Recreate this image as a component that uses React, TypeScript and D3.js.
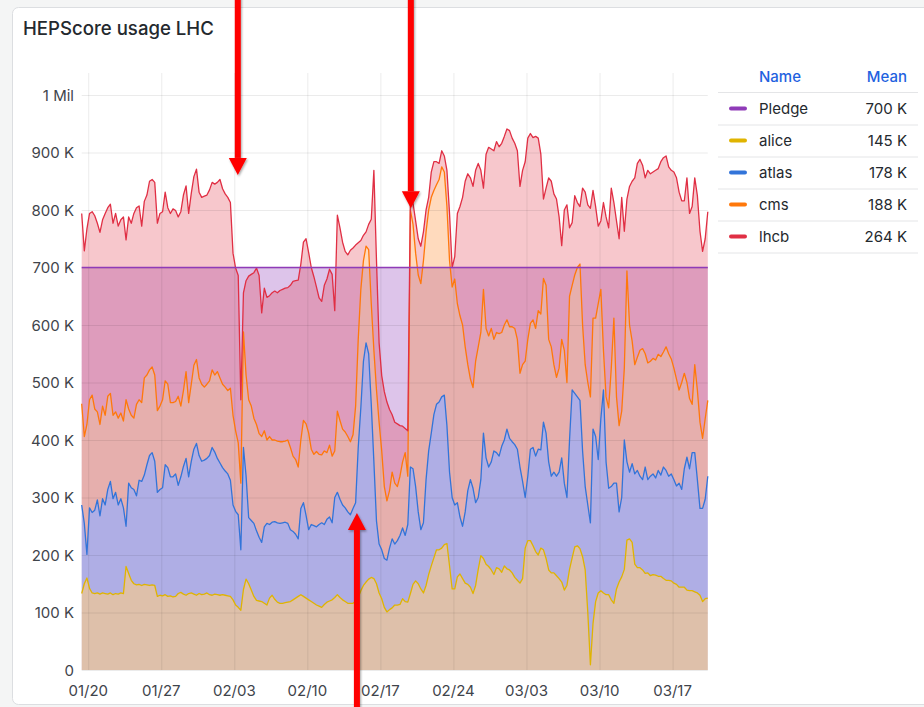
import * as d3 from "d3";

// HEPScore usage LHC - stacked per-experiment usage (K units), 6h samples
const START = new Date(2025, 0, 19, 9);
const STEP_HOURS = 6;

const alice = [
  133, 150, 160, 142, 134, 133, 134, 132, 134, 133,
  132, 134, 131, 133, 132, 134, 133, 180, 168, 156,
  150, 148, 149, 147, 149, 148, 147, 148, 147, 128,
  130, 129, 131, 128, 129, 127, 128, 133, 135, 132,
  130, 133, 134, 132, 130, 133, 131, 132, 134, 131,
  130, 132, 131, 130, 131, 130, 129, 128, 122, 113,
  109, 104, 140, 158, 150, 139, 128, 121, 120, 119,
  116, 113, 125, 130, 123, 118, 116, 116, 117, 118,
  119, 122, 125, 128, 131, 128, 125, 122, 119, 116,
  113, 111, 109, 114, 118, 120, 122, 126, 131, 126,
  122, 119, 116, 116, 116, 120, 126, 138, 147, 153,
  158, 161, 159, 150, 134, 124, 109, 101, 105, 108,
  113, 113, 114, 124, 119, 118, 133, 149, 155, 150,
  141, 134, 147, 166, 181, 195, 209, 209, 212, 218,
  220, 181, 141, 141, 162, 167, 159, 151, 149, 144,
  133, 147, 175, 199, 194, 184, 180, 174, 166, 178,
  176, 170, 181, 176, 174, 169, 161, 156, 151, 159,
  212, 225, 225, 216, 206, 200, 212, 209, 194, 174,
  169, 169, 164, 159, 153, 139, 147, 175, 195, 214,
  216, 211, 197, 174, 100, 9, 81, 119, 134, 138,
  134, 131, 131, 122, 116, 141, 153, 162, 175, 226,
  228, 222, 184, 178, 178, 174, 168, 169, 164, 166,
  165, 163, 163, 159, 156, 156, 155, 151, 149, 144,
  144, 144, 139, 138, 138, 136, 134, 130, 119, 124,
  125,
];

const atlas = [
  154, 105, 41, 140, 140, 145, 162, 136, 164, 154,
  182, 194, 167, 176, 155, 164, 149, 70, 157, 161,
  164, 155, 181, 181, 190, 209, 226, 230, 216, 181,
  184, 188, 226, 224, 207, 209, 213, 188, 201, 222,
  238, 203, 229, 252, 264, 240, 232, 233, 234, 242,
  257, 247, 237, 230, 221, 216, 212, 202, 165, 163,
  161, 105, 247, 180, 115, 121, 127, 121, 111, 103,
  133, 142, 128, 127, 135, 138, 139, 140, 140, 137,
  125, 119, 111, 100, 150, 163, 144, 122, 134, 135,
  136, 142, 147, 139, 144, 146, 134, 174, 178, 171,
  165, 163, 159, 154, 165, 171, 261, 318, 390, 416,
  392, 301, 203, 109, 85, 85, 85, 90, 107, 120,
  106, 112, 120, 123, 115, 135, 220, 201, 164, 125,
  103, 122, 184, 215, 231, 249, 253, 257, 263, 260,
  205, 163, 159, 146, 129, 99, 91, 124, 163, 187,
  183, 144, 125, 132, 218, 185, 173, 188, 215, 200,
  196, 219, 219, 243, 229, 228, 231, 228, 202, 169,
  88, 112, 159, 171, 166, 184, 171, 222, 218, 188,
  168, 175, 173, 185, 216, 186, 153, 225, 292, 267,
  259, 258, 184, 145, 187, 247, 338, 287, 232, 299,
  353, 231, 185, 197, 209, 184, 122, 138, 225, 136,
  116, 137, 157, 169, 159, 157, 185, 162, 173, 175,
  169, 184, 176, 194, 191, 181, 186, 180, 171, 181,
  170, 206, 231, 212, 240, 242, 197, 151, 162, 173,
  212,
];

const cms = [
  176, 151, 226, 188, 204, 176, 153, 159, 161, 156,
  162, 153, 145, 140, 151, 149, 151, 220, 129, 126,
  124, 159, 140, 137, 169, 156, 149, 149, 150, 142,
  145, 153, 146, 145, 129, 129, 126, 155, 123, 132,
  151, 129, 134, 146, 146, 135, 134, 127, 129, 130,
  135, 134, 151, 148, 145, 146, 145, 160, 156, 140,
  125, 116, 201, 175, 205, 199, 183, 185, 180, 184,
  167, 145, 153, 143, 142, 142, 142, 141, 141, 145,
  143, 131, 130, 125, 119, 143, 159, 168, 131, 124,
  131, 122, 118, 128, 116, 125, 116, 81, 141, 137,
  132, 132, 131, 127, 128, 168, 188, 206, 175, 168,
  181, 175, 194, 228, 212, 172, 125, 103, 100, 116,
  106, 94, 103, 115, 144, 84, 447, 425, 406, 412,
  428, 456, 431, 419, 410, 390, 382, 387, 400, 388,
  381, 368, 366, 393, 346, 350, 350, 287, 219, 175,
  175, 246, 262, 256, 250, 225, 228, 232, 194, 209,
  213, 198, 200, 190, 194, 200, 202, 191, 163, 203,
  237, 238, 219, 222, 222, 241, 236, 250, 257, 213,
  225, 187, 172, 181, 206, 231, 200, 250, 182, 206,
  225, 237, 219, 212, 213, 219, 193, 206, 271, 225,
  69, 113, 140, 206, 287, 150, 150, 150, 125, 332,
  256, 213, 190, 197, 219, 228, 197, 203, 200, 201,
  205, 202, 206, 200, 215, 213, 200, 194, 186, 162,
  186, 166, 130, 122, 84, 153, 156, 150, 122, 140,
  132,
];

const lhcb = [
  331, 323, 340, 324, 319, 336, 328, 334, 324, 351,
  328, 329, 334, 345, 334, 336, 355, 278, 334, 334,
  356, 342, 337, 307, 307, 313, 328, 326, 335, 326,
  335, 327, 328, 307, 329, 337, 332, 312, 338, 340,
  323, 329, 332, 328, 331, 323, 325, 332, 329, 332,
  326, 332, 329, 345, 340, 336, 336, 323, 282, 283,
  291, 145, 68, 164, 215, 229, 253, 272, 275, 215,
  248, 248, 245, 256, 259, 258, 263, 265, 266, 265,
  282, 304, 311, 325, 306, 310, 322, 314, 316, 309,
  286, 272, 267, 288, 302, 306, 316, 244, 341, 335,
  325, 314, 316, 333, 325, 280, 168, 85, 44, 25,
  44, 147, 313, 225, 138, 131, 165, 172, 141, 100,
  106, 109, 88, 62, 42, 79, 22, 37, 56, 63,
  65, 50, 38, 22, 44, 50, 40, 28, 28, 28,
  63, 82, 34, 39, 157, 190, 222, 288, 332, 350,
  350, 332, 319, 282, 176, 303, 328, 312, 328, 332,
  325, 329, 328, 332, 341, 328, 322, 328, 325, 338,
  347, 350, 330, 317, 334, 300, 278, 138, 169, 281,
  288, 297, 310, 263, 163, 244, 309, 119, 109, 138,
  113, 100, 238, 300, 309, 328, 222, 194, 135, 119,
  257, 313, 313, 313, 201, 306, 325, 372, 238, 125,
  241, 278, 325, 337, 332, 319, 306, 335, 326, 324,
  330, 323, 339, 338, 332, 325, 328, 341, 350, 344,
  316, 300, 356, 322, 344, 325, 338, 332, 325, 313,
  328,
];

const pledge = 700;

const seriesKeys = ["alice", "atlas", "cms", "lhcb"];
const seriesColors = ["#E0B400", "#3274D9", "#FF780A", "#E02F44"];
const pledgeColor = "#8F3BB8";

const legendNames = ["Pledge", "alice", "atlas", "cms", "lhcb"];
const legendMeans = ["700 K", "145 K", "178 K", "188 K", "264 K"];
const legendColors = [pledgeColor, ...seriesColors];

const xTickLabels = ["01/20", "01/27", "02/03", "02/10", "02/17", "02/24", "03/03", "03/10", "03/17"];
const yTickValues = [0, 100, 200, 300, 400, 500, 600, 700, 800, 900, 1000];
const yTickLabels = ["0", "100 K", "200 K", "300 K", "400 K", "500 K", "600 K", "700 K", "800 K", "900 K", "1 Mil"];

// red annotation arrows drawn on the screenshot
const arrowDates = [new Date(2025, 1, 3, 8), new Date(2025, 1, 19, 22), new Date(2025, 1, 14, 18)];
const arrowValues = [861, 803, 273];
const arrowDirs = ["down", "down", "up"];

const W = 924;
const H = 707;
const FONT = "Inter, 'Noto Sans', sans-serif";
const TEXT = "#24292e";

export default function App() {
  const n = Math.min(alice.length, atlas.length, cms.length, lhcb.length);
  const table = d3.range(n).map((i) => ({
    t: new Date(START.getTime() + i * STEP_HOURS * 3600 * 1000),
    alice: alice[i],
    atlas: atlas[i],
    cms: cms[i],
    lhcb: lhcb[i],
  }));
  const end = table[n - 1].t;

  const x = d3.scaleTime().domain([START, end]).range([81.7, 707.8]);
  const y = d3.scaleLinear().domain([0, 1000]).range([670, 95]);
  const plotTop = 73;
  const [x0, x1] = x.range();

  const stacked = d3.stack().keys(seriesKeys)(table as any);

  const area = d3
    .area<any>()
    .x((d) => x(d.data.t))
    .y0((d) => y(d[0]))
    .y1((d) => y(d[1]));
  const line = d3
    .line<any>()
    .x((d) => x(d.data.t))
    .y((d) => y(d[1]));

  const xTicks = xTickLabels.map((s) => {
    const [m, d] = s.split("/").map(Number);
    return { label: s, date: new Date(2025, m - 1, d) };
  });

  return (
    <>
      <style>{`body{margin:0;background:#f4f5f5}`}</style>
      <svg width={W} height={H} style={{ display: "block", fontFamily: FONT }}>
        <defs>
          <filter id="shadow" x="-50%" y="-10%" width="200%" height="120%">
            <feDropShadow dx="1" dy="1.5" stdDeviation="1.2" floodColor="#000" floodOpacity="0.35" />
          </filter>
        </defs>
        <rect x={0} y={0} width={W} height={H} fill="#f4f5f5" />
        <rect x={12.5} y={7.5} width={930} height={697} rx={6} fill="#ffffff" stroke="#dcdee1" />
        <text x={23} y={35} fontSize={18.6} fontWeight={500} fill={TEXT}>
          HEPScore usage LHC
        </text>

        {/* pledge fill behind the stacks */}
        <rect
          x={x0}
          y={y(pledge)}
          width={x1 - x0}
          height={y(0) - y(pledge)}
          fill={pledgeColor}
          fillOpacity={0.3}
        />

        {stacked.map((s, i) => (
          <path key={"a" + s.key} d={area(s) || ""} fill={seriesColors[i]} fillOpacity={0.27} />
        ))}

        {/* grid */}
        <g stroke="#000" strokeOpacity={0.08} strokeWidth={1}>
          {yTickValues.map((v) => (
            <line key={"gy" + v} x1={x0} x2={x1} y1={y(v) + 0.5} y2={y(v) + 0.5} />
          ))}
          {xTicks.map((t) => (
            <line key={"gx" + t.label} x1={x(t.date) + 0.5} x2={x(t.date) + 0.5} y1={plotTop} y2={y(0)} />
          ))}
        </g>

        {stacked.map((s, i) => (
          <path
            key={"l" + s.key}
            d={line(s) || ""}
            fill="none"
            stroke={seriesColors[i]}
            strokeWidth={1.3}
            strokeLinejoin="round"
          />
        ))}

        <line x1={x0} x2={x1} y1={y(pledge)} y2={y(pledge)} stroke={pledgeColor} strokeWidth={1.5} />

        {/* axes labels */}
        <g fontSize={15} fill="#3f444b">
          {yTickValues.map((v, i) => (
            <text key={"ty" + v} x={74} y={y(v)} textAnchor="end" dominantBaseline="central">
              {yTickLabels[i]}
            </text>
          ))}
          {xTicks.map((t) => (
            <text key={"tx" + t.label} x={x(t.date)} y={696} textAnchor="middle">
              {t.label}
            </text>
          ))}
        </g>

        {/* legend table */}
        <g fontSize={15}>
          <text x={759} y={76} dominantBaseline="central" fill="#1F62E0" fontWeight={500}>
            Name
          </text>
          <text x={907} y={76} dominantBaseline="central" textAnchor="end" fill="#1F62E0" fontWeight={500}>
            Mean
          </text>
          <line x1={718} x2={918} y1={92.5} y2={92.5} stroke="#e4e5e7" />
          {legendNames.map((name, i) => {
            const cy = 108.5 + i * 32;
            return (
              <g key={"lg" + name}>
                <rect x={729} y={cy - 2} width={18} height={4} rx={2} fill={legendColors[i]} />
                <text x={759} y={cy} dominantBaseline="central" fill={TEXT}>
                  {name}
                </text>
                <text x={907} y={cy} dominantBaseline="central" textAnchor="end" fill={TEXT}>
                  {legendMeans[i]}
                </text>
                <line x1={718} x2={918} y1={cy + 16.5} y2={cy + 16.5} stroke="#e4e5e7" />
              </g>
            );
          })}
        </g>

        {/* red arrows */}
        <g fill="#ff0000" stroke="none" filter="url(#shadow)">
          {arrowDates.map((d, i) => {
            const ax = x(d);
            const tip = y(arrowValues[i]);
            const head = 17;
            const hw = 9;
            const down = arrowDirs[i] === "down";
            const base = down ? tip - head : tip + head;
            const shaftY = down ? -5 : base;
            const shaftH = down ? base + 5 : H + 5 - base;
            return (
              <g key={"ar" + i}>
                <rect x={ax - 3} y={shaftY} width={6} height={shaftH} />
                <polygon points={`${ax - hw},${base} ${ax + hw},${base} ${ax},${tip}`} />
              </g>
            );
          })}
        </g>
      </svg>
    </>
  );
}
